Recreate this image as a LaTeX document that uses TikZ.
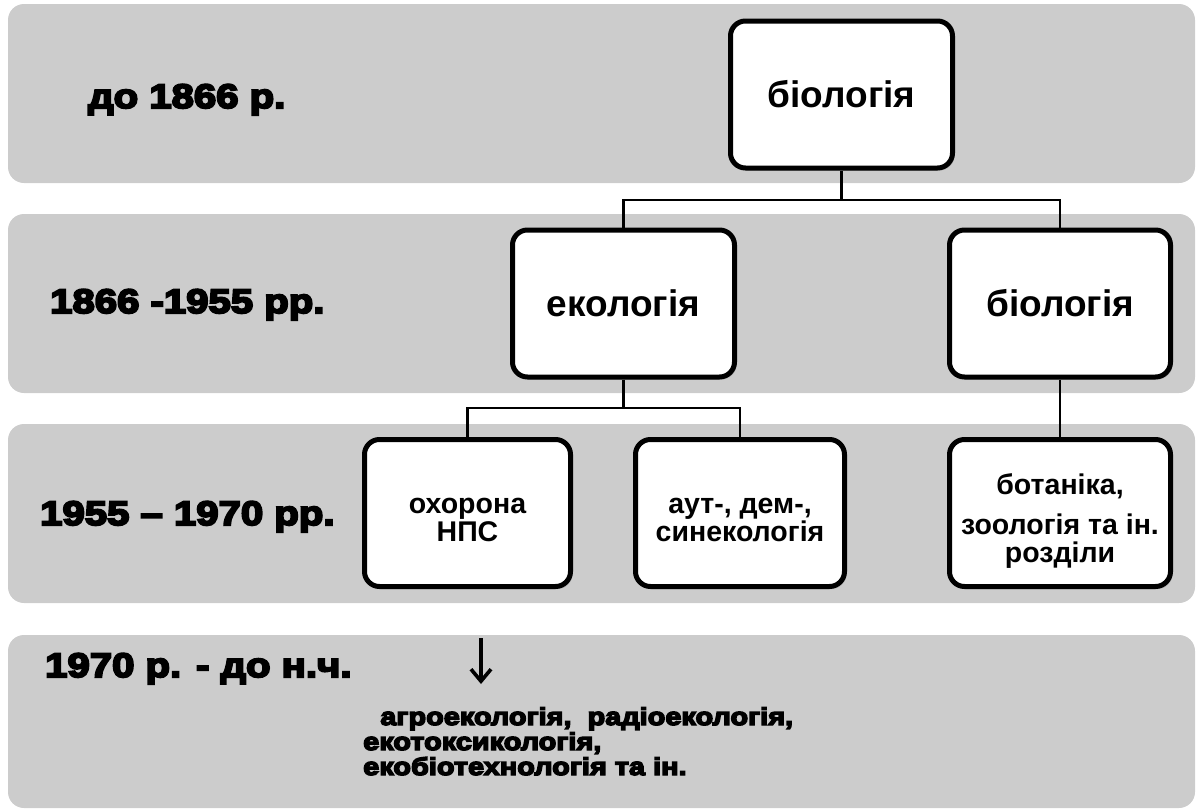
\documentclass[tikz,border=0pt]{standalone}
\usepackage{fontspec}
\setmainfont{Liberation Sans}
\newfontfamily\heavy[FakeBold=6,FakeStretch=1.18]{Liberation Sans Bold}
\usetikzlibrary{arrows.meta,shadows}
\definecolor{bandgray}{HTML}{CCCCCC}
% invisible height on a first line, which lowers a multi-line label inside its box
\newcommand{\topstrut}[1]{\rule{0pt}{#1}}
\begin{document}
\begin{tikzpicture}[x=1pt,y=-1pt,
  band/.style={fill=bandgray, rounded corners=16pt},
  box/.style={draw=black, line width=5pt, fill=white, rounded corners=15pt,
    inner sep=0pt, align=center, minimum height=147pt,
    drop shadow={shadow xshift=2pt, shadow yshift=-2.5pt, opacity=0.35}},
  bigtext/.style={font=\bfseries\fontsize{37}{40}\selectfont},
  smalltext/.style={font=\bfseries\fontsize{28.5}{28}\selectfont},
  link/.style={line width=2.8pt},
  era/.style={anchor=base west, inner sep=0pt, font=\heavy\fontsize{34}{38}\selectfont},
]
\useasboundingbox (0,0) rectangle (1197,809);

% period bands
\fill[band] (8,4) rectangle (1195,183);
\fill[band] (8,214) rectangle (1195,393);
\fill[band] (8,424) rectangle (1195,603);
\fill[band] (8,635) rectangle (1195,808);

% period labels
\node[era] (p1) at (88,108) {до 1866 р.};
\node[era] (p2) at (50,313) {1866 -1955 рр.};
\node[era] (p3) at (40,525) {1955 – 1970 рр.};
\node[era] (p4) at (45,677) {1970 р. - до н.ч.};

% tree of disciplines
\node[box, bigtext, minimum width=222pt] (bio1) at (841.5,94.5) {біологія};
\node[box, bigtext, minimum width=222pt] (eco) at (623.5,303.5) {екологія};
\node[box, bigtext, minimum width=221pt] (bio2) at (1060,303.5) {біологія};
\node[box, smalltext, minimum width=206pt] (ohor) at (467.5,513) {\topstrut{30pt}охорона\\НПС};
\node[box, smalltext, minimum width=209pt] (aut) at (740,513) {\topstrut{30pt}аут-, дем-,\\синекологія};
\node[box, smalltext, minimum width=221pt] (bot) at (1060,513) {\topstrut{37pt}ботаніка,\\[12pt]зоологія та ін.\\розділи};

\coordinate (j1) at (841.5,200);
\coordinate (j2) at (623.5,408);
\draw[link] (bio1.south) -- (j1);
\draw[link] (j1) -| (eco.north);
\draw[link] (j1) -| (bio2.north);
\draw[link] (eco.south) -- (j2);
\draw[link] (j2) -| (ohor.north);
\draw[link] (j2) -| (aut.north);
\draw[link] (bio2.south) -- (bot.north);

% modern branches
\coordinate (a0) at (481,638);
\coordinate (a1) at (481,684);
\draw[line width=3.6pt, -{Straight Barb[length=12pt,width=20pt]}] (a0) -- (a1);
\node[anchor=base west, inner sep=0pt, align=left,
  font=\heavy\fontsize{24.5}{25}\selectfont] (mod) at (363,775)
  {\hspace*{0.7em}агроекологія,\ \ радіоекологія,\\екотоксикологія,\\екобіотехнологія та ін.};
\end{tikzpicture}
\end{document}
